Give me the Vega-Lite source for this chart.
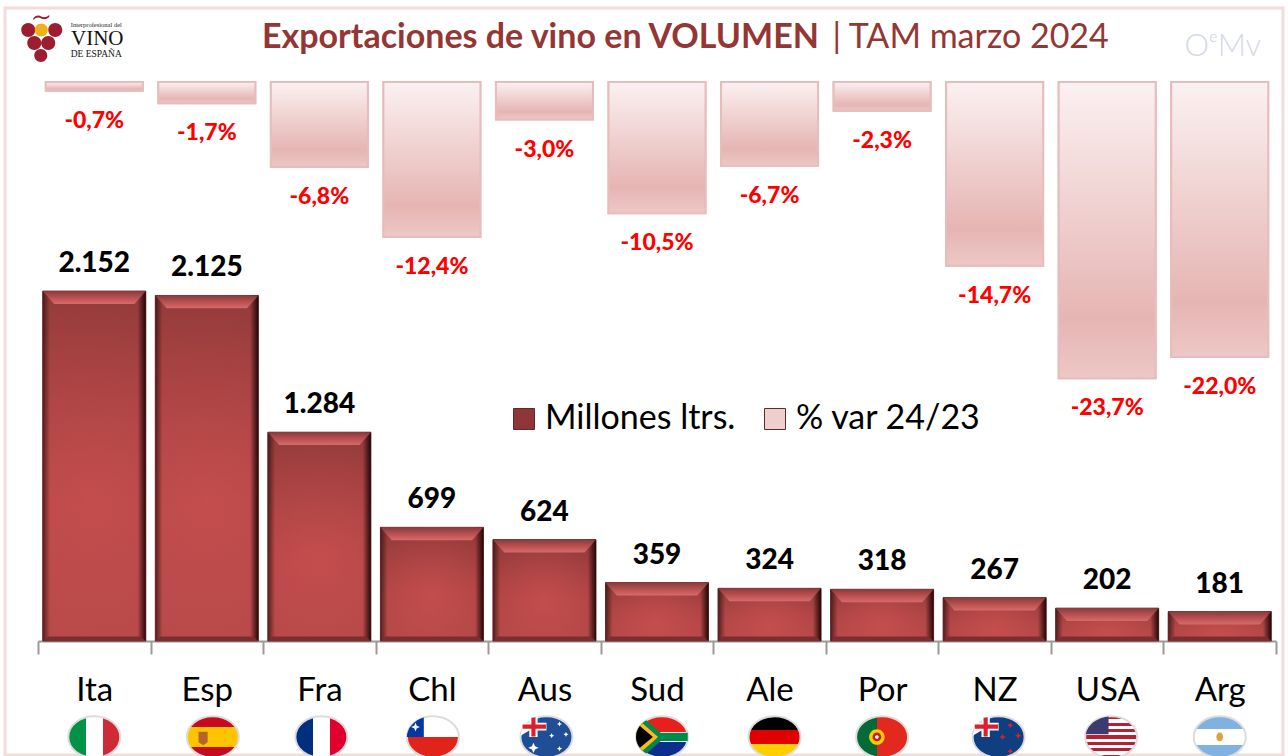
{
"$schema":"https://vega.github.io/schema/vega-lite/v6.json",
"width":1278,"height":747,
"autosize":"none",
"padding":{"left":5,"top":8,"right":5,"bottom":1},
"background":"white",
"view":{"stroke":"#f3dcda","strokeWidth":3,"fill":null},
"config":{"font":"Lato"},
"datasets":{
"main":[
{"pais":"Ita","litros":2152,"litrosTxt":"2.152","var":-0.7,"varTxt":"-0,7%"},
{"pais":"Esp","litros":2125,"litrosTxt":"2.125","var":-1.7,"varTxt":"-1,7%"},
{"pais":"Fra","litros":1284,"litrosTxt":"1.284","var":-6.8,"varTxt":"-6,8%"},
{"pais":"Chl","litros":699,"litrosTxt":"699","var":-12.4,"varTxt":"-12,4%"},
{"pais":"Aus","litros":624,"litrosTxt":"624","var":-3.0,"varTxt":"-3,0%"},
{"pais":"Sud","litros":359,"litrosTxt":"359","var":-10.5,"varTxt":"-10,5%"},
{"pais":"Ale","litros":324,"litrosTxt":"324","var":-6.7,"varTxt":"-6,7%"},
{"pais":"Por","litros":318,"litrosTxt":"318","var":-2.3,"varTxt":"-2,3%"},
{"pais":"NZ","litros":267,"litrosTxt":"267","var":-14.7,"varTxt":"-14,7%"},
{"pais":"USA","litros":202,"litrosTxt":"202","var":-23.7,"varTxt":"-23,7%"},
{"pais":"Arg","litros":181,"litrosTxt":"181","var":-22.0,"varTxt":"-22,0%"}
],
"detalles":[
{"pais":"Esp","parte":"crest"},
{"pais":"Chl","parte":"cantonChl"},
{"pais":"Chl","parte":"starChl"},
{"pais":"Aus","parte":"jackW"},
{"pais":"Aus","parte":"jackR"},
{"pais":"Aus","parte":"starsAus"},
{"pais":"Sud","parte":"sudG"},
{"pais":"Sud","parte":"sudY"},
{"pais":"Sud","parte":"sudK"},
{"pais":"Por","parte":"porY"},
{"pais":"Por","parte":"porR"},
{"pais":"Por","parte":"porW"},
{"pais":"NZ","parte":"jackW"},
{"pais":"NZ","parte":"jackR"},
{"pais":"NZ","parte":"starsNZ"},
{"pais":"USA","parte":"cantonUSA"},
{"pais":"Arg","parte":"sun"}
]
},
"data":{"name":"main"},
"encoding":{
"x":{"field":"pais","type":"nominal","title":null,
"scale":{"type":"band","domain":["Ita","Esp","Fra","Chl","Aus","Sud","Ale","Por","NZ","USA","Arg"],"range":[33,1271],"paddingInner":0,"paddingOuter":0},
"axis":{"orient":"bottom","offset":-114,"tickBand":"extent","domainColor":"#999999","domainWidth":2,"tickColor":"#999999","tickWidth":2,"tickSize":13,"labelAngle":0,"labelFontSize":33,"labelColor":"#000000","labelFont":"Lato","labelPadding":20,"grid":false,"labelBaseline":"top"}}
},
"resolve":{"scale":{"y":"independent"}},
"layer":[
{
"encoding":{"y":{"field":"var","type":"quantitative","stack":null,"axis":null,"title":null,"scale":{"domain":[-53.84,5.92],"nice":false,"zero":false}}},
"layer":[
{"mark":{"type":"bar","width":97,"stroke":"#e8bcba","strokeWidth":2},
"encoding":{"color":{"datum":"% var 24/23","type":"nominal",
"scale":{"domain":["Millones ltrs.","% var 24/23"],"range":["#8f3636","#efcfcd"]},
"legend":{"orient":"none","legendX":502,"legendY":394,"direction":"horizontal","title":null,"symbolType":"square","symbolSize":441,"symbolStrokeColor":"#e9bcbb","symbolStrokeWidth":1,"labelFont":"Lato","labelFontSize":34,"labelColor":"#000000","labelOffset":4,"columnPadding":22,"labelLimit":300,"symbolOpacity":1}}}},
{"mark":{"type":"bar","width":97,"stroke":"#e8bcba","strokeWidth":2,"color":{"gradient":"linear","x1":0,"y1":0,"x2":0,"y2":1,"stops":[{"offset":0,"color":"#fbf1f1"},{"offset":0.8,"color":"#e5b5b3"},{"offset":1,"color":"#edc8c6"}]}}},
{"mark":{"type":"text","color":"#ff0000","fontWeight":900,"fontSize":23,"font":"Lato","dy":30,"baseline":"middle"},
"encoding":{"text":{"field":"varTxt"}}}
]
},
{
"encoding":{"y":{"field":"litros","type":"quantitative","stack":null,"axis":null,"title":null,"scale":{"domain":[-701,3893],"nice":false,"zero":false}}},
"layer":[
{"mark":{"type":"bar","width":103,"stroke":"#5e2a2a","strokeWidth":1},
"encoding":{"color":{"datum":"Millones ltrs.","type":"nominal"}}},
{"mark":{"type":"bar","width":103,"color":{"gradient":"linear","x1":0,"y1":0,"x2":0,"y2":1,"stops":[{"offset":0,"color":"#963c3c"},{"offset":0.6,"color":"#b34646"},{"offset":1,"color":"#b84a4a"}]}}},
{"mark":{"type":"bar","width":103,"color":{"gradient":"radial","x1":0.5,"y1":0.6,"r1":0,"x2":0.5,"y2":0.6,"r2":0.6,"stops":[{"offset":0,"color":"rgba(215,85,85,0.6)"},{"offset":1,"color":"rgba(215,85,85,0)"}]}}},
{"mark":{"type":"bar","width":103,"color":{"gradient":"linear","x1":0,"y1":0,"x2":1,"y2":0,"stops":[{"offset":0,"color":"rgba(50,15,15,0.75)"},{"offset":0.07,"color":"rgba(50,15,15,0.03)"},{"offset":0.92,"color":"rgba(20,0,0,0.03)"},{"offset":1,"color":"rgba(20,0,0,0.9)"}]}}},
{"mark":{"type":"point","filled":true,"opacity":1,"size":10609,"shape":"M-1,0L1,0L0.78,0.25L-0.78,0.25Z","fill":{"gradient":"linear","x1":0,"y1":0,"x2":0,"y2":1,"stops":[{"offset":0,"color":"#8a3a3a"},{"offset":0.5,"color":"#b85050"},{"offset":1,"color":"#d86a6a"}]}}},
{"mark":{"type":"point","filled":true,"opacity":1,"size":10609,"shape":"M-1,0L1,0L0.9,-0.09L-0.9,-0.09Z","fill":"#7a2e2e"},"encoding":{"y":{"datum":0}}},
{"mark":{"type":"text","color":"#000000","fontWeight":900,"fontSize":28,"font":"Lato","dy":-27,"baseline":"middle"},
"encoding":{"text":{"field":"litrosTxt"}}},
{"transform":[{"filter":"datum.pais==='Ita'"}],"mark":{"type":"point","filled":true,"opacity":1,"size":2704,"stroke":"#dcdcdc","strokeWidth":2,"shape":"M-1,0A1,0.8 0 1 0 1,0A1,0.8 0 1 0 -1,0Z","fill":{"gradient":"linear","x1":0,"y1":0,"x2":1,"y2":0,"stops":[{"offset":0,"color":"#009246"},{"offset":0.34,"color":"#009246"},{"offset":0.34,"color":"#ffffff"},{"offset":0.66,"color":"#ffffff"},{"offset":0.66,"color":"#ce2b37"},{"offset":1,"color":"#ce2b37"}]}},"encoding":{"y":{"datum":-590}}},
{"transform":[{"filter":"datum.pais==='Esp'"}],"mark":{"type":"point","filled":true,"opacity":1,"size":2704,"xOffset":6,"stroke":"#dcdcdc","strokeWidth":2,"shape":"M-1,0A1,0.8 0 1 0 1,0A1,0.8 0 1 0 -1,0Z","fill":{"gradient":"linear","x1":0,"y1":0,"x2":0,"y2":1,"stops":[{"offset":0,"color":"#c60b1e"},{"offset":0.25,"color":"#c60b1e"},{"offset":0.25,"color":"#ffc400"},{"offset":0.75,"color":"#ffc400"},{"offset":0.75,"color":"#c60b1e"},{"offset":1,"color":"#c60b1e"}]}},"encoding":{"y":{"datum":-590}}},
{"transform":[{"filter":"datum.pais==='Fra'"}],"mark":{"type":"point","filled":true,"opacity":1,"size":2704,"xOffset":2,"stroke":"#dcdcdc","strokeWidth":2,"shape":"M-1,0A1,0.8 0 1 0 1,0A1,0.8 0 1 0 -1,0Z","fill":{"gradient":"linear","x1":0,"y1":0,"x2":1,"y2":0,"stops":[{"offset":0,"color":"#002f7f"},{"offset":0.34,"color":"#002f7f"},{"offset":0.34,"color":"#ffffff"},{"offset":0.66,"color":"#ffffff"},{"offset":0.66,"color":"#e1002d"},{"offset":1,"color":"#e1002d"}]}},"encoding":{"y":{"datum":-590}}},
{"transform":[{"filter":"datum.pais==='Chl'"}],"mark":{"type":"point","filled":true,"opacity":1,"size":2704,"xOffset":1,"stroke":"#dcdcdc","strokeWidth":2,"shape":"M-1,0A1,0.8 0 1 0 1,0A1,0.8 0 1 0 -1,0Z","fill":{"gradient":"linear","x1":0,"y1":0,"x2":0,"y2":1,"stops":[{"offset":0,"color":"#ffffff"},{"offset":0.5,"color":"#ffffff"},{"offset":0.5,"color":"#e2231a"},{"offset":1,"color":"#e2231a"}]}},"encoding":{"y":{"datum":-590}}},
{"transform":[{"filter":"datum.pais==='Aus'"}],"mark":{"type":"point","filled":true,"opacity":1,"size":2704,"xOffset":2,"stroke":"#dcdcdc","strokeWidth":2,"shape":"M-1,0A1,0.8 0 1 0 1,0A1,0.8 0 1 0 -1,0Z","fill":"#1f4e96"},"encoding":{"y":{"datum":-590}}},
{"transform":[{"filter":"datum.pais==='Sud'"}],"mark":{"type":"point","filled":true,"opacity":1,"size":2704,"xOffset":5,"stroke":"#dcdcdc","strokeWidth":2,"shape":"M-1,0A1,0.8 0 1 0 1,0A1,0.8 0 1 0 -1,0Z","fill":{"gradient":"linear","x1":0,"y1":0,"x2":0,"y2":1,"stops":[{"offset":0,"color":"#e8201c"},{"offset":0.38,"color":"#e8201c"},{"offset":0.38,"color":"#ffffff"},{"offset":0.42,"color":"#ffffff"},{"offset":0.42,"color":"#008a4b"},{"offset":0.58,"color":"#008a4b"},{"offset":0.58,"color":"#ffffff"},{"offset":0.62,"color":"#ffffff"},{"offset":0.62,"color":"#0c2f8f"},{"offset":1,"color":"#0c2f8f"}]}},"encoding":{"y":{"datum":-590}}},
{"transform":[{"filter":"datum.pais==='Ale'"}],"mark":{"type":"point","filled":true,"opacity":1,"size":2704,"xOffset":5,"stroke":"#dcdcdc","strokeWidth":2,"shape":"M-1,0A1,0.8 0 1 0 1,0A1,0.8 0 1 0 -1,0Z","fill":{"gradient":"linear","x1":0,"y1":0,"x2":0,"y2":1,"stops":[{"offset":0,"color":"#000000"},{"offset":0.33,"color":"#000000"},{"offset":0.33,"color":"#e00000"},{"offset":0.67,"color":"#e00000"},{"offset":0.67,"color":"#ffce00"},{"offset":1,"color":"#ffce00"}]}},"encoding":{"y":{"datum":-590}}},
{"transform":[{"filter":"datum.pais==='Por'"}],"mark":{"type":"point","filled":true,"opacity":1,"size":2704,"stroke":"#dcdcdc","strokeWidth":2,"shape":"M-1,0A1,0.8 0 1 0 1,0A1,0.8 0 1 0 -1,0Z","fill":{"gradient":"linear","x1":0,"y1":0,"x2":1,"y2":0,"stops":[{"offset":0,"color":"#046a38"},{"offset":0.4,"color":"#046a38"},{"offset":0.4,"color":"#e2281f"},{"offset":1,"color":"#e2281f"}]}},"encoding":{"y":{"datum":-590}}},
{"transform":[{"filter":"datum.pais==='NZ'"}],"mark":{"type":"point","filled":true,"opacity":1,"size":2704,"xOffset":4,"stroke":"#dcdcdc","strokeWidth":2,"shape":"M-1,0A1,0.8 0 1 0 1,0A1,0.8 0 1 0 -1,0Z","fill":"#0f3f80"},"encoding":{"y":{"datum":-590}}},
{"transform":[{"filter":"datum.pais==='USA'"}],"mark":{"type":"point","filled":true,"opacity":1,"size":2704,"xOffset":4,"stroke":"#dcdcdc","strokeWidth":2,"shape":"M-1,0A1,0.8 0 1 0 1,0A1,0.8 0 1 0 -1,0Z","fill":{"gradient":"linear","x1":0,"y1":0,"x2":0,"y2":1,"stops":[{"offset":0,"color":"#b22234"},{"offset":0.077,"color":"#b22234"},{"offset":0.077,"color":"#ffffff"},{"offset":0.154,"color":"#ffffff"},{"offset":0.154,"color":"#b22234"},{"offset":0.231,"color":"#b22234"},{"offset":0.231,"color":"#ffffff"},{"offset":0.308,"color":"#ffffff"},{"offset":0.308,"color":"#b22234"},{"offset":0.385,"color":"#b22234"},{"offset":0.385,"color":"#ffffff"},{"offset":0.462,"color":"#ffffff"},{"offset":0.462,"color":"#b22234"},{"offset":0.539,"color":"#b22234"},{"offset":0.539,"color":"#ffffff"},{"offset":0.616,"color":"#ffffff"},{"offset":0.616,"color":"#b22234"},{"offset":0.693,"color":"#b22234"},{"offset":0.693,"color":"#ffffff"},{"offset":0.77,"color":"#ffffff"},{"offset":0.77,"color":"#b22234"},{"offset":0.847,"color":"#b22234"},{"offset":0.847,"color":"#ffffff"},{"offset":0.924,"color":"#ffffff"},{"offset":0.924,"color":"#b22234"},{"offset":1,"color":"#b22234"}]}},"encoding":{"y":{"datum":-590}}},
{"transform":[{"filter":"datum.pais==='Arg'"}],"mark":{"type":"point","filled":true,"opacity":1,"size":2704,"stroke":"#dcdcdc","strokeWidth":2,"shape":"M-1,0A1,0.8 0 1 0 1,0A1,0.8 0 1 0 -1,0Z","fill":{"gradient":"linear","x1":0,"y1":0,"x2":0,"y2":1,"stops":[{"offset":0,"color":"#7fb2e0"},{"offset":0.3,"color":"#7fb2e0"},{"offset":0.3,"color":"#ffffff"},{"offset":0.7,"color":"#ffffff"},{"offset":0.7,"color":"#7fb2e0"},{"offset":1,"color":"#7fb2e0"}]}},"encoding":{"y":{"datum":-590}}}
]
},
{
"layer":[
{"data":{"name":"detalles"},
"mark":{"type":"point","filled":true,"opacity":1,"size":2704,"strokeWidth":0,"xOffset":{"expr":"datum.pais==='Esp'?6:datum.pais==='Chl'?1:datum.pais==='Aus'?2:datum.pais==='Sud'?5:datum.pais==='NZ'||datum.pais==='USA'?4:0"}},
"encoding":{"y":{"datum":-590,"type":"quantitative","axis":null,"scale":{"domain":[-701,3893],"nice":false,"zero":false}},
"shape":{"field":"parte","type":"nominal","legend":null,"scale":{
"domain":["crest","cantonChl","starChl","jackW","jackR","starsAus","sudG","sudY","sudK","porY","porR","porW","starsNZ","cantonUSA","sun"],
"range":[
"M-0.55,-0.2L-0.2,-0.2L-0.2,0.2L-0.37,0.32L-0.55,0.2Z",
"M-1,0A1,0.8 0 0 1 -0.35,-0.75L-0.35,0Z",
"M-0.67,-0.55L-0.62,-0.43L-0.5,-0.38L-0.62,-0.33L-0.67,-0.21L-0.72,-0.33L-0.84,-0.38L-0.72,-0.43Z",
"M-0.66,-0.72L-0.34,-0.78L-0.34,-0.55L0,-0.55L0,-0.25L-0.34,-0.25L-0.34,0L-0.66,0L-0.66,-0.25L-1,-0.05L-0.95,-0.25L-0.95,-0.55L-0.66,-0.55Z",
"M-0.58,-0.74L-0.42,-0.76L-0.42,-0.48L-0.02,-0.48L-0.02,-0.32L-0.42,-0.32L-0.42,-0.02L-0.58,-0.02L-0.58,-0.32L-0.92,-0.32L-0.92,-0.48L-0.58,-0.48Z",
"M-0.5,0.22L-0.44,0.36L-0.3,0.42L-0.44,0.48L-0.5,0.62L-0.56,0.48L-0.7,0.42L-0.56,0.36ZM0.5,-0.6L0.53,-0.53L0.6,-0.5L0.53,-0.47L0.5,-0.4L0.47,-0.47L0.4,-0.5L0.47,-0.53ZM0.2,-0.15L0.23,-0.08L0.3,-0.05L0.23,-0.02L0.2,0.05L0.17,-0.02L0.1,-0.05L0.17,-0.08ZM0.75,-0.2L0.78,-0.13L0.85,-0.1L0.78,-0.07L0.75,0L0.72,-0.07L0.65,-0.1L0.72,-0.13ZM0.5,0.35L0.53,0.42L0.6,0.45L0.53,0.48L0.5,0.55L0.47,0.48L0.4,0.45L0.47,0.42Z",
"M-0.6,-0.64L-0.05,-0.16L0.99,-0.16L0.99,0.16L-0.05,0.16L-0.6,0.64A1,0.8 0 0 1 -0.6,-0.64Z",
"M-0.75,-0.53L-0.15,0L-0.75,0.53A1,0.8 0 0 1 -0.75,-0.53Z",
"M-0.85,-0.42L-0.35,0L-0.85,0.42A1,0.8 0 0 1 -0.85,-0.42Z",
"M-0.5,0A0.3,0.3 0 1 0 0.1,0A0.3,0.3 0 1 0 -0.5,0Z",
"M-0.37,0A0.17,0.17 0 1 0 -0.03,0A0.17,0.17 0 1 0 -0.37,0Z",
"M-0.27,0A0.07,0.07 0 1 0 -0.13,0A0.07,0.07 0 1 0 -0.27,0Z",
"M0.33,-0.45L0.41,-0.49L0.45,-0.57L0.49,-0.49L0.57,-0.45L0.49,-0.41L0.45,-0.33L0.41,-0.41ZM0.03,0L0.11,-0.04L0.15,-0.12L0.19,-0.04L0.27,0L0.19,0.04L0.15,0.12L0.11,0.04ZM0.63,-0.05L0.71,-0.09L0.75,-0.17L0.79,-0.09L0.87,-0.05L0.79,-0.01L0.75,0.07L0.71,-0.01ZM0.33,0.55L0.41,0.51L0.45,0.43L0.49,0.51L0.57,0.55L0.49,0.59L0.45,0.67L0.41,0.59Z",
"M-0.98,-0.1A1,0.8 0 0 1 -0.1,-0.79L-0.1,-0.1Z",
"M-0.13,0A0.13,0.17 0 1 0 0.13,0A0.13,0.17 0 1 0 -0.13,0Z"
]}},
"fill":{"field":"parte","type":"nominal","legend":null,"scale":{
"domain":["crest","cantonChl","starChl","jackW","jackR","starsAus","sudG","sudY","sudK","porY","porR","porW","starsNZ","cantonUSA","sun"],
"range":["#b5642a","#0039a6","#ffffff","#ffffff","#d8202f","#ffffff","#008a4b","#ffb81c","#000000","#f5d000","#c8202a","#ffffff","#d8202f","#3c3b6e","#dca23c"]}}}},
{"data":{"values":[{"pais":"Aus","t":"Exportaciones de vino en VOLUMEN"}]},
"mark":{"type":"text","color":"#943634","fontWeight":"bold","fontSize":34,"font":"Lato","dx":-4,"baseline":"middle"},
"encoding":{"y":{"datum":3709,"type":"quantitative","axis":null,"scale":{"domain":[-701,3893],"nice":false,"zero":false}},"text":{"field":"t"}}},
{"data":{"values":[{"pais":"NZ","t":"| TAM marzo 2024"}]},
"mark":{"type":"text","color":"#943634","fontSize":34,"font":"Lato","dx":-24,"baseline":"middle"},
"encoding":{"y":{"datum":3709,"type":"quantitative","axis":null,"scale":{"domain":[-701,3893],"nice":false,"zero":false}},"text":{"field":"t"}}},
{"data":{"values":[{"pais":"Arg","t":"OᵉMv"}]},
"mark":{"type":"text","color":"#d4d9e8","fontSize":31,"font":"Lato","fontWeight":300,"dx":3,"baseline":"middle"},
"encoding":{"y":{"datum":3653,"type":"quantitative","axis":null,"scale":{"domain":[-701,3893],"nice":false,"zero":false}},"text":{"field":"t"}}},
{"data":{"values":[{"pais":"Ita"}]},
"mark":{"type":"point","filled":true,"opacity":1,"size":400,"xOffset":-53,"color":"#9c1c30","shape":"M-2,-1A0.7,0.7 0 1 0 -0.6,-1A0.7,0.7 0 1 0 -2,-1ZM0.7,-1A0.7,0.7 0 1 0 2.1,-1A0.7,0.7 0 1 0 0.7,-1ZM-1.4,0.3A0.7,0.7 0 1 0 0,0.3A0.7,0.7 0 1 0 -1.4,0.3ZM0,0.3A0.7,0.7 0 1 0 1.4,0.3A0.7,0.7 0 1 0 0,0.3ZM-0.7,1.55A0.65,0.65 0 1 0 0.6,1.55A0.65,0.65 0 1 0 -0.7,1.55ZM-0.8,-2.2Q-0.4,-2.6 0,-2.35Q0.4,-2.15 0.8,-2.5L0.8,-2.3Q0.4,-1.95 0,-2.15Q-0.4,-2.4 -0.8,-2Z"},
"encoding":{"y":{"datum":3696,"type":"quantitative","axis":null,"scale":{"domain":[-701,3893],"nice":false,"zero":false}}}},
{"data":{"values":[{"pais":"Ita"}]},
"mark":{"type":"point","filled":true,"opacity":1,"size":400,"xOffset":-53,"color":"#f0b018","shape":"M-0.65,-1A0.65,0.65 0 1 0 0.65,-1A0.65,0.65 0 1 0 -0.65,-1Z"},
"encoding":{"y":{"datum":3696,"type":"quantitative","axis":null,"scale":{"domain":[-701,3893],"nice":false,"zero":false}}}},
{"data":{"values":[{"pais":"Ita","t":"Interprofesional del"}]},
"mark":{"type":"text","color":"#222222","fontSize":6.5,"font":"Liberation Serif","dx":2,"baseline":"middle"},
"encoding":{"y":{"datum":3788,"type":"quantitative","axis":null,"scale":{"domain":[-701,3893],"nice":false,"zero":false}},"text":{"field":"t"}}},
{"data":{"values":[{"pais":"Ita","t":"VINO"}]},
"mark":{"type":"text","color":"#111111","fontSize":21,"font":"Liberation Serif","dx":3,"baseline":"middle"},
"encoding":{"y":{"datum":3702,"type":"quantitative","axis":null,"scale":{"domain":[-701,3893],"nice":false,"zero":false}},"text":{"field":"t"}}},
{"data":{"values":[{"pais":"Ita","t":"DE ESPAÑA"}]},
"mark":{"type":"text","color":"#111111","fontSize":9.5,"font":"Liberation Serif","dx":2,"baseline":"middle"},
"encoding":{"y":{"datum":3610,"type":"quantitative","axis":null,"scale":{"domain":[-701,3893],"nice":false,"zero":false}},"text":{"field":"t"}}}
]
}
]
}
